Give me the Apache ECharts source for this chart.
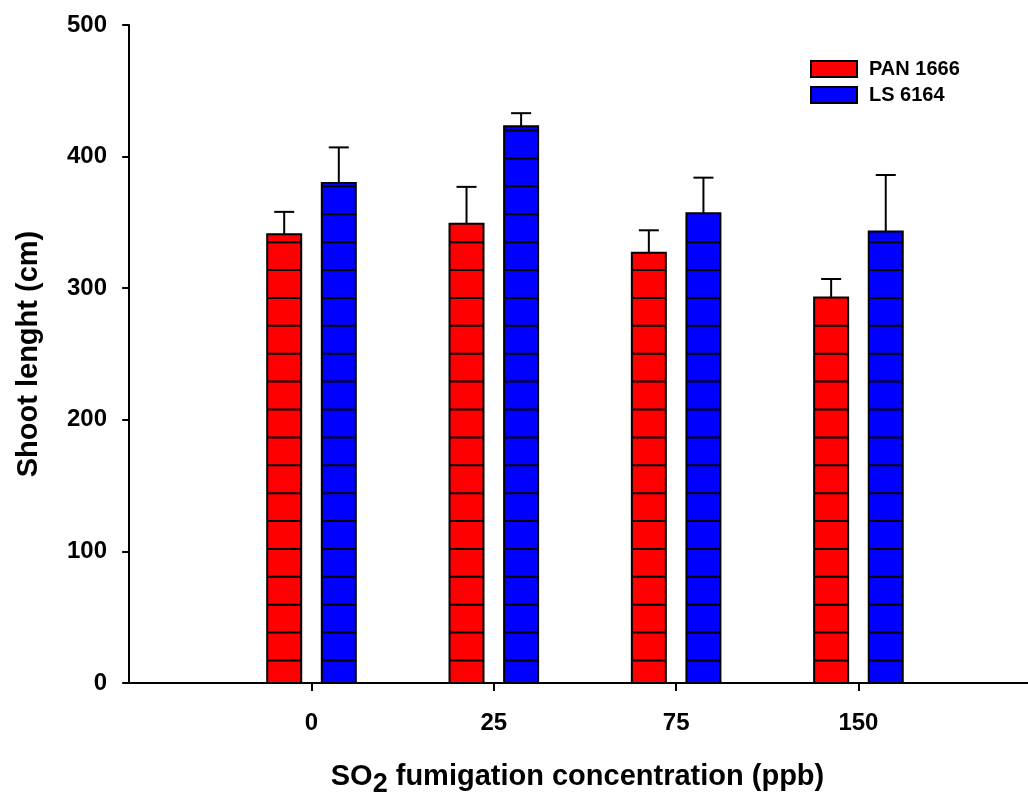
<!DOCTYPE html>
<html>
<head>
<meta charset="utf-8">
<script src="https://cdn.jsdelivr.net/npm/echarts@6/dist/echarts.min.js"></script>
<style>
  html, body { margin: 0; padding: 0; background: #fff; }
  #chart { width: 1028px; height: 792px; }
</style>
</head>
<body>
<div id="chart"></div>
<script>
// SO2 fumigation levels (ppb) shown on the x axis
const categories = ['0', '25', '75', '150'];
// Mean shoot length (cm) and its error for each cultivar
const panMeans = [341, 349, 327, 293];
const panErrors = [17, 28, 17, 14];
const lsMeans = [380, 423, 357, 343];
const lsErrors = [27, 10, 27, 43];
const seriesNames = ['PAN 1666', 'LS 6164'];
// y axis range and step
const yMin = 0, yMax = 500, yStep = 100;

const FONT = '"Liberation Sans", Arial, sans-serif';
const BAR_W = 34;          // bar width in px
const BAR_OFFSET = 27.3;   // bar centre distance from the group centre, px
const STRIPE = 27.89;      // spacing of the horizontal fill lines, px
const STRIPE_START = 22.5; // first fill line above the bar base, px
const CAP_W = 20;          // error bar cap width, px

function toData(means, errors) {
  return means.map((m, i) => [i + 1, m, errors[i]]);
}

function makeRenderer(offset) {
  return function (params, api) {
    const x = api.value(0), v = api.value(1), e = api.value(2);
    const base = api.coord([x, 0]);
    const top = api.coord([x, v]);
    const errTop = api.coord([x, v + e]);
    const cx = base[0] + offset;
    const left = cx - BAR_W / 2;
    const children = [];
    // error bar (upper half only)
    children.push({
      type: 'line',
      shape: { x1: cx, y1: top[1], x2: cx, y2: errTop[1] },
      style: { stroke: '#000', lineWidth: 2 }
    });
    children.push({
      type: 'line',
      shape: { x1: cx - CAP_W / 2, y1: errTop[1], x2: cx + CAP_W / 2, y2: errTop[1] },
      style: { stroke: '#000', lineWidth: 2 }
    });
    // filled bar
    children.push({
      type: 'rect',
      shape: { x: left, y: top[1], width: BAR_W, height: base[1] - top[1] },
      style: { fill: api.visual('color'), stroke: '#000', lineWidth: 2 }
    });
    // horizontal line pattern inside the bar
    for (let y = base[1] - STRIPE_START; y > top[1] + 1.5; y -= STRIPE) {
      children.push({
        type: 'line',
        shape: { x1: left, y1: y, x2: left + BAR_W, y2: y },
        style: { stroke: '#000', lineWidth: 2 }
      });
    }
    return { type: 'group', children };
  };
}

const chart = echarts.init(document.getElementById('chart'), null, { renderer: 'canvas' });

chart.setOption({
  backgroundColor: '#fff',
  animation: false,
  textStyle: { fontFamily: FONT },
  grid: { left: 127, right: 0, top: 25, bottom: 109, containLabel: false, outerBoundsMode: 'none' },
  legend: {
    orient: 'vertical',
    left: 810,
    top: 59,
    padding: 0,
    itemWidth: 46,
    itemHeight: 16,
    itemGap: 6,
    icon: 'rect',
    data: seriesNames,
    itemStyle: { borderColor: '#000', borderWidth: 2 },
    textStyle: { fontFamily: FONT, fontSize: 20, fontWeight: 'bold', color: '#000', padding: [0, 0, 0, 7] }
  },
  xAxis: {
    type: 'value',
    min: -0.012,
    max: 4.93,
    splitLine: { show: false },
    axisLine: { show: true, lineStyle: { color: '#000', width: 2 } },
    axisTick: { show: true, customValues: [1, 2, 3, 4], length: 8, lineStyle: { color: '#000', width: 2 } },
    axisLabel: {
      customValues: [1, 2, 3, 4],
      formatter: v => categories[Math.round(v) - 1],
      margin: 28,
      fontFamily: FONT, fontSize: 24, fontWeight: 'bold', color: '#000'
    },
    name: 'SO{sub|2} fumigation concentration (ppb)',
    nameLocation: 'middle',
    nameGap: 73,
    nameTextStyle: {
      fontFamily: FONT, fontSize: 29, fontWeight: 'bold', color: '#000',
      rich: {
        sub: { fontFamily: FONT, fontSize: 27, fontWeight: 'bold', color: '#000', padding: [15, 0, 0, 0] }
      }
    }
  },
  yAxis: {
    type: 'value',
    min: yMin,
    max: yMax,
    interval: yStep,
    splitLine: { show: false },
    axisLine: { show: true, lineStyle: { color: '#000', width: 2 } },
    axisTick: { show: true, length: 7, lineStyle: { color: '#000', width: 2 } },
    axisLabel: { margin: 20, fontFamily: FONT, fontSize: 24, fontWeight: 'bold', color: '#000' },
    name: 'Shoot lenght (cm)',
    nameLocation: 'middle',
    nameGap: 84,
    nameTextStyle: { fontFamily: FONT, fontSize: 29, fontWeight: 'bold', color: '#000' }
  },
  series: [
    {
      name: seriesNames[0],
      type: 'custom',
      itemStyle: { color: '#ff0000', borderColor: '#000', borderWidth: 2 },
      renderItem: makeRenderer(-BAR_OFFSET),
      encode: { x: 0, y: 1 },
      data: toData(panMeans, panErrors)
    },
    {
      name: seriesNames[1],
      type: 'custom',
      itemStyle: { color: '#0000ff', borderColor: '#000', borderWidth: 2 },
      renderItem: makeRenderer(BAR_OFFSET),
      encode: { x: 0, y: 1 },
      data: toData(lsMeans, lsErrors)
    }
  ]
});
</script>
</body>
</html>
